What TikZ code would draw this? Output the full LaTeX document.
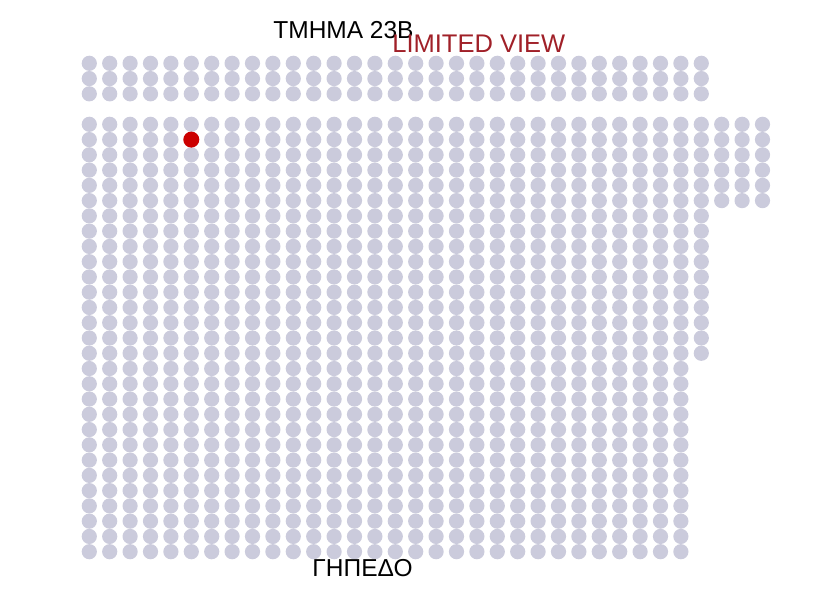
\documentclass[tikz,border=0pt]{standalone}
\usepackage{fontspec}
\setmainfont{Liberation Sans}
\definecolor{seatgrey}{RGB}{203,203,220}
\definecolor{seatred}{RGB}{204,0,0}
\definecolor{viewred}{RGB}{160,32,40}
\tikzset{
  seat/.style={fill=seatgrey},
  label/.style={inner sep=0pt, anchor=base, font=\fontsize{24.5pt}{26pt}\selectfont},
}
\begin{document}
\begin{tikzpicture}[x=1pt,y=-1pt]
\useasboundingbox (0,0) rectangle (823,600);
% top block: 3 rows x 31 columns
\foreach \i in {0,...,30}{
  \foreach \j in {0,1,2}{
    \fill[seat] (89.3+20.4*\i, 63.3+15.264*\j) circle (7.6);
  }
}
% main block: columns 0..29, 29 rows
\foreach \i in {0,...,29}{
  \foreach \j in {0,...,28}{
    \fill[seat] (89.3+20.4*\i, 124.3+15.264*\j) circle (7.6);
  }
}
% column 30: 16 rows
\foreach \j in {0,...,15}{
  \fill[seat] (89.3+20.4*30, 124.3+15.264*\j) circle (7.6);
}
% columns 31..33: 6 rows
\foreach \i in {31,32,33}{
  \foreach \j in {0,...,5}{
    \fill[seat] (89.3+20.4*\i, 124.3+15.264*\j) circle (7.6);
  }
}
% selected seat
\fill[seatred] (191.3, 139.6) circle (8);
% labels
\node[label] (section) at (343.5,38.3) {ΤΜΗΜΑ 23Β};
\node[label, text=viewred, font=\fontsize{25.5pt}{27pt}\selectfont] (limited) at (478.8,52.8) {LIMITED VIEW};
\node[label] (field) at (362.5,576) {ΓΗΠΕΔΟ};
\end{tikzpicture}
\end{document}
